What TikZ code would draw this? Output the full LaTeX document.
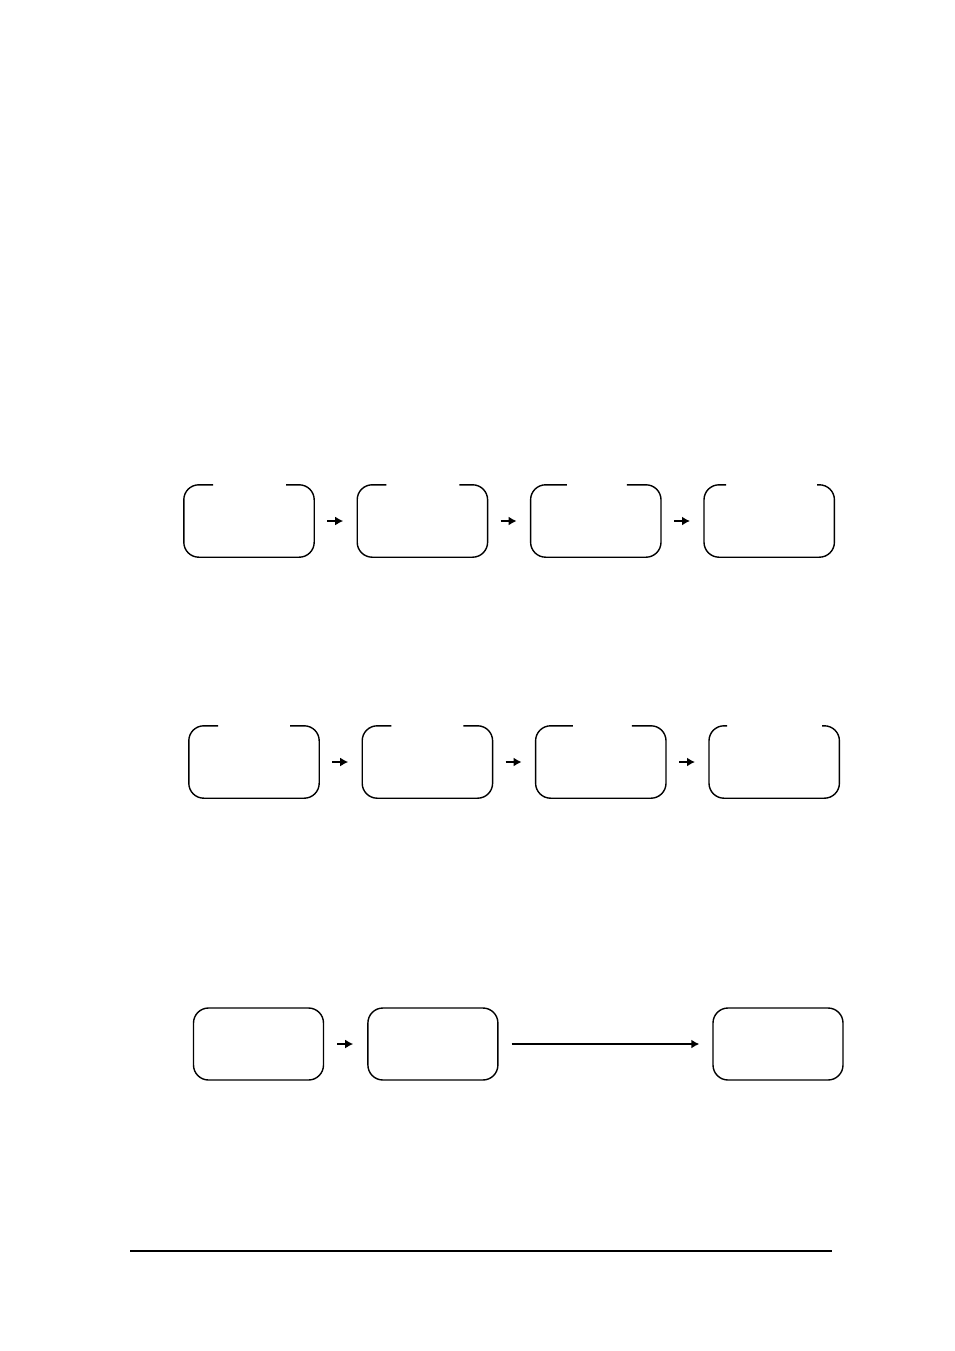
\documentclass[tikz,border=0pt]{standalone}
\usetikzlibrary{positioning,arrows.meta}

\newcommand{\openbox}[3]{%
  \draw[boxline] ([xshift=#3pt]#1.north) -- (#1.north east) -- (#1.south east)
    -- (#1.south west) -- (#1.north west) -- ([xshift=-#2pt]#1.north);}

\begin{document}
\begin{tikzpicture}[x=1pt,y=-1pt,node distance=43pt,
    stage/.style={rectangle,minimum width=130pt,minimum height=72pt,inner sep=0pt},
    boxline/.style={line width=1.4pt,rounded corners=15pt},
    arr/.style={-{Latex[length=8pt,width=9pt]},line width=1.8pt,shorten <=13pt,shorten >=14pt}]
  \useasboundingbox (0,0) rectangle (954,1351);
  % first row
  \node[stage] (a1) at (249,521) {};
  \node[stage,right=of a1] (a2) {};
  \node[stage,right=of a2] (a3) {};
  \node[stage,right=of a3] (a4) {};
  \openbox{a1}{36}{37}
  \openbox{a2}{36}{37}
  \openbox{a3}{29}{31}
  \openbox{a4}{43}{48}
  \draw[arr] (a1) -- (a2);
  \draw[arr] (a2) -- (a3);
  \draw[arr] (a3) -- (a4);
  % second row
  \node[stage] (b1) at (254,762) {};
  \node[stage,right=of b1] (b2) {};
  \node[stage,right=of b2] (b3) {};
  \node[stage,right=of b3] (b4) {};
  \openbox{b1}{36}{36}
  \openbox{b2}{36}{36}
  \openbox{b3}{28}{31}
  \openbox{b4}{47}{48}
  \draw[arr] (b1) -- (b2);
  \draw[arr] (b2) -- (b3);
  \draw[arr] (b3) -- (b4);
  % third row
  \node[stage,draw,boxline] (c1) at (258.5,1044) {};
  \node[stage,draw,boxline,right=of c1] (c2) {};
  \node[stage,draw,boxline] (c3) at (778,1044) {};
  \draw[arr] (c1) -- (c2);
  \draw[arr,shorten >=13pt,line width=2.2pt] (c2) -- (c3);
  % rule at the foot
  \coordinate (r1) at (130,1251);
  \coordinate (r2) at (832,1251);
  \draw[line width=1.6pt] (r1) -- (r2);
\end{tikzpicture}
\end{document}
